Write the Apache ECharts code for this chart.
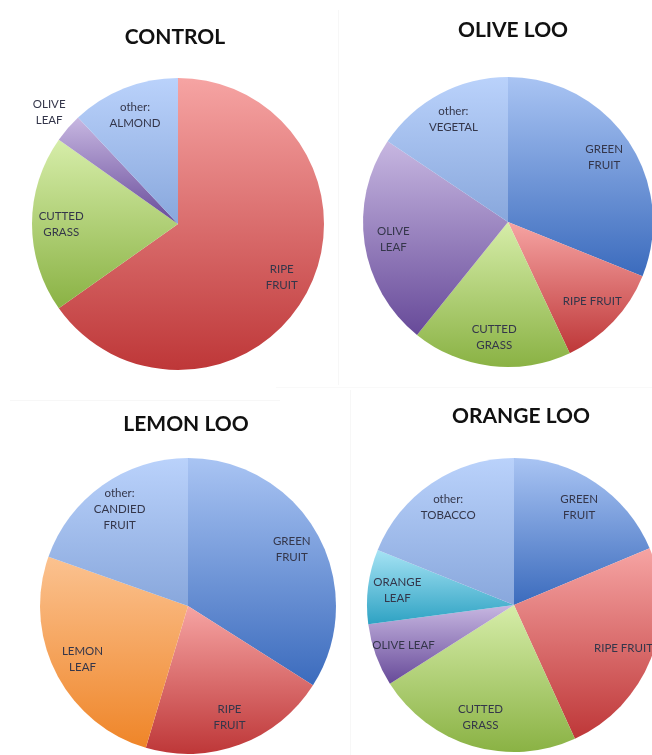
<!DOCTYPE html>
<html>
<head>
<meta charset="utf-8">
<script src="https://cdn.jsdelivr.net/npm/echarts@6/dist/echarts.min.js"></script>
<style>
html,body{margin:0;padding:0;background:#fff;}
#chart{width:652px;height:755px;}
</style>
</head>
<body>
<div id="chart"></div>
<script>
// ---- Data ----
const titles = ['CONTROL', 'OLIVE LOO', 'LEMON LOO', 'ORANGE LOO'];

const controlNames  = ['RIPE\nFRUIT', 'CUTTED\nGRASS', 'OLIVE\nLEAF', 'other:\nALMOND'];
const controlKeys   = ['ripe', 'grass', 'olive', 'other'];
const controlValues = [65.2, 19.6, 3.2, 12.0];

const oliveNames  = ['GREEN\nFRUIT', 'RIPE FRUIT', 'CUTTED\nGRASS', 'OLIVE\nLEAF', 'other:\nVEGETAL'];
const oliveKeys   = ['green', 'ripe', 'grass', 'olive', 'other'];
const oliveValues = [31.1, 11.9, 17.8, 23.6, 15.6];

const lemonNames  = ['GREEN\nFRUIT', 'RIPE\nFRUIT', 'LEMON\nLEAF', 'other:\nCANDIED\nFRUIT'];
const lemonKeys   = ['green', 'ripe', 'lemon', 'other'];
const lemonValues = [34.0, 20.6, 25.8, 19.6];

const orangeNames  = ['GREEN\nFRUIT', 'RIPE FRUIT', 'CUTTED\nGRASS', 'OLIVE LEAF', 'ORANGE\nLEAF', 'other:\nTOBACCO'];
const orangeKeys   = ['green', 'ripe', 'grass', 'olive', 'orange', 'other'];
const orangeValues = [18.7, 24.5, 22.8, 6.9, 8.2, 18.9];

// ---- Styles ----
const palette = {
  green:  ['#a9c4f3', '#3b6bbd'],
  ripe:   ['#f6a4a3', '#be3738'],
  grass:  ['#d6eda9', '#8ab244'],
  olive:  ['#c7b7e1', '#674a99'],
  other:  ['#bad2fb', '#88a7dc'],
  lemon:  ['#fbc290', '#ef8528'],
  orange: ['#a6e3f4', '#2ea2c3']
};
function grad(key) {
  const c = palette[key];
  return new echarts.graphic.LinearGradient(0, 0, 0, 1, [
    { offset: 0, color: c[0] }, { offset: 1, color: c[1] }
  ]);
}

const pies = [
  { names: controlNames, keys: controlKeys, values: controlValues, cx: 178, cy: 224, r: 146, tx: 170, ty: 22 },
  { names: oliveNames,   keys: oliveKeys,   values: oliveValues,   cx: 508, cy: 222, r: 145, tx: 508, ty: 15 },
  { names: lemonNames,   keys: lemonKeys,   values: lemonValues,   cx: 188, cy: 606, r: 148, tx: 181, ty: 409 },
  { names: orangeNames,  keys: orangeKeys,  values: orangeValues,  cx: 514, cy: 605, r: 147, tx: 516, ty: 401 }
];

function makeLayout(p) {
  const total = p.values.reduce((a, b) => a + b, 0);
  return function (params) {
    let cum = 0;
    for (let i = 0; i < params.dataIndex; i++) cum += p.values[i];
    const v = p.values[params.dataIndex];
    const mid = (cum + v / 2) / total * 2 * Math.PI;
    const frac = v / total < 0.05 ? 1.17 : 0.8;
    return {
      x: p.cx + Math.sin(mid) * p.r * frac,
      y: p.cy - Math.cos(mid) * p.r * frac,
      align: 'center',
      verticalAlign: 'middle'
    };
  };
}

const chart = echarts.init(document.getElementById('chart'), null, { renderer: 'canvas' });

const option = {
  backgroundColor: '#ffffff',
  animation: false,
  title: pies.map((p, i) => ({
    text: titles[i],
    left: p.tx,
    top: p.ty,
    textAlign: 'center',
    textStyle: { fontFamily: 'Lato', fontWeight: 'bold', fontSize: 21, color: '#111111' }
  })),
  graphic: [
    { type: 'line', shape: { x1: 338.5, y1: 10, x2: 338.5, y2: 385 }, style: { stroke: '#f7f7f7', lineWidth: 1 } },
    { type: 'line', shape: { x1: 10, y1: 400.5, x2: 280, y2: 400.5 }, style: { stroke: '#f7f7f7', lineWidth: 1 } },
    { type: 'line', shape: { x1: 350.5, y1: 390, x2: 350.5, y2: 755 }, style: { stroke: '#f7f7f7', lineWidth: 1 } },
    { type: 'line', shape: { x1: 276, y1: 387.5, x2: 652, y2: 387.5 }, style: { stroke: '#f9f9f9', lineWidth: 1 } }
  ],
  series: pies.map(p => ({
    type: 'pie',
    center: [p.cx, p.cy],
    radius: [0, p.r],
    startAngle: 90,
    clockwise: true,
    avoidLabelOverlap: false,
    silent: true,
    itemStyle: { borderWidth: 0 },
    label: {
      show: true,
      position: 'inside',
      formatter: '{b}',
      fontFamily: 'Lato',
      fontSize: 11.5,
      lineHeight: 16,
      color: '#34364a'
    },
    labelLine: { show: false },
    labelLayout: makeLayout(p),
    data: p.values.map((v, i) => ({
      name: p.names[i],
      value: v,
      itemStyle: { color: grad(p.keys[i]) }
    }))
  }))
};

chart.setOption(option);
</script>
</body>
</html>
